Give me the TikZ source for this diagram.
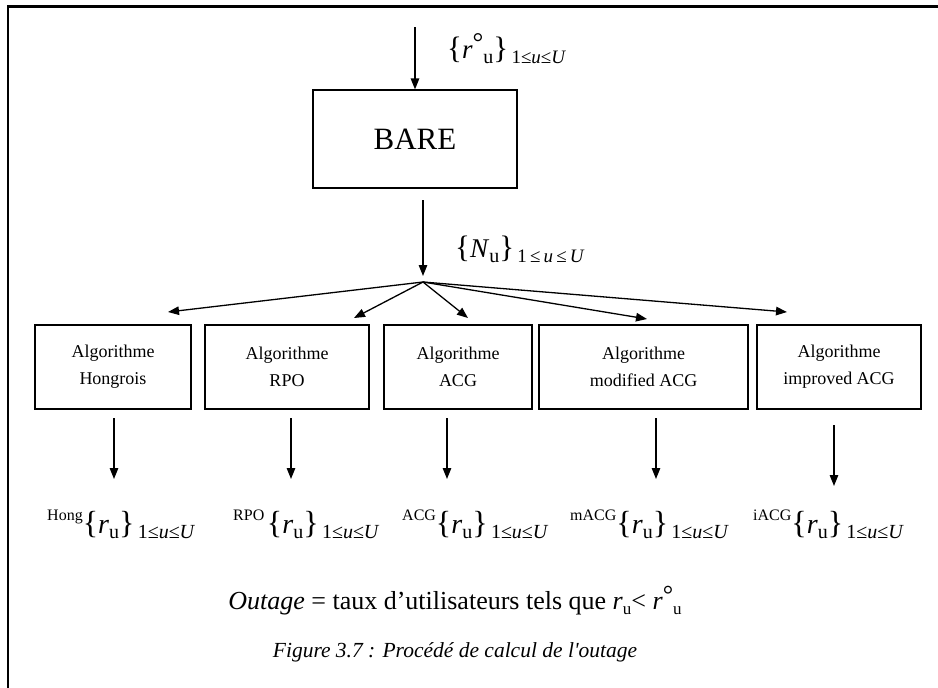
\documentclass[tikz,border=0pt]{standalone}
\usepackage{fontspec}
\setmainfont{Liberation Serif}
\usetikzlibrary{arrows.meta}
\newcommand\fs[1]{\fontsize{#1}{#1}\selectfont}
\newcommand\rset[1]{\raisebox{1.0ex}{\fs{16}#1}{\fs{32}\{}{\fs{28}\textit{r}}\raisebox{-0.45ex}{\fs{20}u}{\fs{32}\}}\raisebox{-0.45ex}{\fs{20}\,1≤\textit{u}≤\textit{U}}}
\begin{document}
\begin{tikzpicture}[x=1pt,y=-1pt,
  arr/.style={line width=1.3pt,-{Triangle[length=11pt,width=8.5pt]}},
  algbox/.style={draw, line width=1.2pt, minimum height=84pt, align=center, font=\fontsize{18}{27}\selectfont, inner sep=0pt},
  lab/.style={anchor=base west, inner sep=0pt, font=\fs{27}},
  ctext/.style={anchor=base, inner sep=0pt}]
\useasboundingbox (0,0) rectangle (938,688);
% frame
\draw[line width=2.2pt] (8,688) -- (8,6.5) -- (938,6.5);
% BARE
\node[draw, line width=1.2pt, minimum width=204pt, minimum height=98pt, font=\fs{31}] (bare) at (415,139) {BARE};
\coordinate (in) at (415,27);
\draw[arr] (in) -- (bare.north);
\node[lab] (rlab) at (447,58) {{\fs{31}\{}\textit{r}\raisebox{0.5ex}{°}\raisebox{-0.45ex}{\fs{20}u}{\fs{31}\}}\raisebox{-0.45ex}{\fs{19}\,1≤\textit{u}≤\textit{U}}};
% second arrow
\coordinate (b2) at (423,200);
\coordinate (fan) at (423,282);
\coordinate (fanin) at (423,276);
\draw[arr] (b2) -- (fanin);
\node[lab] (nlab) at (455,257) {{\fs{31}\{}\textit{N}\raisebox{-0.45ex}{\fs{20}u}{\fs{31}\}}\raisebox{-0.45ex}{\fs{19}\,1\,≤\,\textit{u}\,≤\,\textit{U}}};
% boxes
\node[algbox, minimum width=156pt] (a1) at (113,367) {Algorithme\\Hongrois};
\node[algbox, minimum width=164pt] (a2) at (287,367) {Algorithme\\RPO};
\node[algbox, minimum width=148pt] (a3) at (458,367) {Algorithme\\ACG};
\node[algbox, minimum width=209pt] (a4) at (643.5,367) {Algorithme\\modified ACG};
\node[algbox, minimum width=164pt] (a5) at (839,367) {Algorithme\\improved ACG};
% fan arrows
\coordinate (t1) at (168,312);
\coordinate (t2) at (354,318);
\coordinate (t3) at (468,318);
\coordinate (t4) at (647,319);
\coordinate (t5) at (787,312);
\foreach \t in {t1,t2,t3,t4,t5} \draw[arr] (fan) -- (\t);
% down arrows
\coordinate (s1) at (114,418); \coordinate (e1) at (114,479);
\coordinate (s2) at (291,418); \coordinate (e2) at (291,479);
\coordinate (s3) at (447,418); \coordinate (e3) at (447,479);
\coordinate (s4) at (656,418); \coordinate (e4) at (656,479);
\coordinate (s5) at (834,425); \coordinate (e5) at (834,486);
\foreach \i in {1,...,5} \draw[arr] (s\i) -- (e\i);
% result labels
\node[lab] (o1) at (47,533) {\rset{Hong}};
\node[lab] (o2) at (233,533) {\rset{RPO\,}};
\node[lab] (o3) at (402,533) {\rset{ACG}};
\node[lab] (o4) at (570,533) {\rset{mACG}};
\node[lab] (o5) at (753,533) {\rset{iACG}};
% outage
\node[ctext, font=\fs{26}] (out) at (455,609) {\textit{Outage} = taux d’utilisateurs tels que \textit{r}\raisebox{-0.45ex}{\fs{17}u}< \textit{r}\raisebox{0.5ex}{°}\raisebox{-0.45ex}{\fs{17}u}};
\node[ctext, font=\fs{21.5}\itshape] (cap) at (455,657) {Figure 3.7 : Procédé de calcul de l\textquotesingle outage};
\end{tikzpicture}
\end{document}
